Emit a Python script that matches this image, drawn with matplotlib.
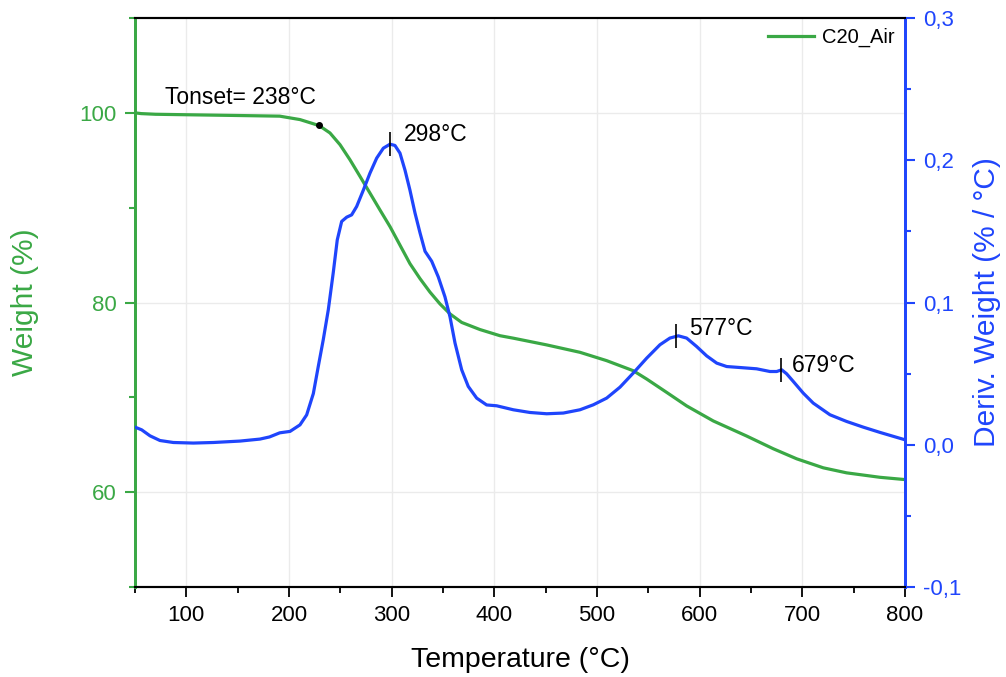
import numpy as np
import matplotlib
matplotlib.use("Agg")
import matplotlib.pyplot as plt
from matplotlib.ticker import MultipleLocator, FuncFormatter

plt.rcParams['font.family'] = ['Liberation Sans', 'DejaVu Sans']

# TGA weight curve (C20_Air)
temp_w = [50, 56, 70, 100, 150, 191, 210.7, 229.3, 239.9, 249.7, 259.4, 269.2,
          278.9, 288.6, 298.4, 308.1, 317.8, 327.6, 337.3, 347, 356.8, 368.2, 386,
          405.5, 418.5, 451, 483.4, 509.4, 535.3, 548.4, 567.9, 587.3, 613.3,
          645.8, 671.7, 694.5, 720.4, 743.1, 775.6, 800]
weight = [100.0, 99.92, 99.85, 99.8, 99.72, 99.65, 99.29, 98.66, 97.88, 96.64,
          95.05, 93.29, 91.53, 89.76, 88.0, 86.05, 84.1, 82.52, 81.1, 79.86, 78.8,
          77.9, 77.15, 76.5, 76.24, 75.53, 74.75, 73.87, 72.81, 71.93, 70.52, 69.1,
          67.51, 65.92, 64.58, 63.52, 62.57, 62.04, 61.57, 61.33]

# derivative weight curve
temp_d = [50, 56.5, 64.6, 74.3, 87.3, 106.8, 126.3, 152.3, 171.7, 181, 191, 201,
          210.7, 217.2, 223.7, 228.5, 233.4, 238.3, 243.1, 247, 251.3, 256.2, 261,
          265.9, 272.4, 278.9, 285.4, 291.9, 298.4, 303.2, 308.1, 313, 317.8,
          322.7, 327.6, 332.5, 339, 345.4, 351.9, 356.8, 361.7, 368.2, 374.6,
          382.8, 392.5, 402.3, 418.5, 434.7, 451, 467.2, 483.4, 496.4, 509.4,
          522.4, 535.3, 548.4, 561.3, 571, 579.2, 587.3, 597, 606.8, 616.6, 626.3,
          639.3, 655.5, 668.5, 675, 679.9, 684.7, 691.2, 700.9, 710.6, 726.9,
          743.1, 759.3, 775.6, 800]
deriv = [0.0124, 0.0105, 0.0063, 0.003, 0.0016, 0.0012, 0.0016, 0.0026, 0.004,
         0.0055, 0.0084, 0.0094, 0.014, 0.021, 0.036, 0.055, 0.074, 0.095, 0.121,
         0.144, 0.157, 0.160, 0.1616, 0.1675, 0.179, 0.191, 0.2015, 0.2085,
         0.2113, 0.2104, 0.205, 0.193, 0.179, 0.163, 0.149, 0.136, 0.129, 0.118,
         0.104, 0.090, 0.0715, 0.0527, 0.041, 0.0328, 0.028, 0.0274, 0.0246,
         0.0227, 0.0218, 0.0223, 0.0246, 0.0281, 0.0328, 0.0405, 0.0504, 0.0609,
         0.0703, 0.075, 0.0766, 0.075, 0.0691, 0.0625, 0.0574, 0.055, 0.0543,
         0.0534, 0.0515, 0.0515, 0.0527, 0.0499, 0.0445, 0.0363, 0.0293, 0.0211,
         0.0164, 0.0124, 0.0087, 0.0035]

peak_T = [298, 577, 679]
peak_labels = ["298°C", "577°C", "679°C"]
onset_T = 229
onset_label = "Tonset= 238°C"

green = '#3aa845'
blue = '#1f45fc'

fig = plt.figure(figsize=(10.06, 6.77), dpi=100)
ax = fig.add_axes([0.1342, 0.1329, 0.7654, 0.8405])
ax2 = ax.twinx()

ax.plot(temp_w, weight, color=green, lw=2.3, label='C20_Air', solid_joinstyle='round')
ax.plot([onset_T], [np.interp(onset_T, temp_w, weight)], 'o', color='black', ms=4)
ax.text(79, 101.6, onset_label, fontsize=16.5, va='center', ha='left')

ax2.plot(temp_d, deriv, color=blue, lw=2.3, zorder=3, solid_joinstyle='round')
peak_vals = np.interp(peak_T, temp_d, deriv)
ax2.plot(peak_T, peak_vals, '|', color='black', ms=17, mew=1.2, zorder=4)
ax2.text(312, 0.218, peak_labels[0], fontsize=16.5, va='center', ha='left')
ax2.text(590, 0.082, peak_labels[1], fontsize=16.5, va='center', ha='left')
ax2.text(690, 0.056, peak_labels[2], fontsize=16.5, va='center', ha='left')

ax.set_xlim(50, 800)
ax.set_ylim(50, 110)
ax2.set_ylim(-0.1, 0.3)

ax.xaxis.set_major_locator(MultipleLocator(100))
ax.xaxis.set_minor_locator(MultipleLocator(50))
ax.yaxis.set_minor_locator(MultipleLocator(10))
ax.set_yticks([60, 80, 100])
ax2.yaxis.set_major_locator(MultipleLocator(0.1))
ax2.yaxis.set_minor_locator(MultipleLocator(0.05))
ax2.yaxis.set_major_formatter(FuncFormatter(lambda v, p: f"{v:.1f}".replace('.', ',').replace('-0,0', '0,0')))

ax.grid(True, which='major', color='#ebebeb', lw=1)
ax.set_axisbelow(True)

ax.tick_params(axis='x', which='major', length=7, width=1.3, labelsize=16, colors='black', pad=6)
ax.tick_params(axis='x', which='minor', length=4, width=1.3)
ax.tick_params(axis='y', which='major', length=7, width=1.5, labelsize=16, colors=green, pad=6)
ax.tick_params(axis='y', which='minor', length=4, width=1.5, colors=green)
ax2.tick_params(axis='y', which='major', length=7, width=1.5, labelsize=16, colors=blue, pad=6)
ax2.tick_params(axis='y', which='minor', length=4, width=1.5, colors=blue)

for a in (ax, ax2):
    a.spines['left'].set_color(green)
    a.spines['left'].set_linewidth(2)
    a.spines['right'].set_color(blue)
    a.spines['right'].set_linewidth(2)
    a.spines['bottom'].set_linewidth(1.5)
    a.spines['top'].set_linewidth(1.5)

ax.set_xlabel('Temperature (°C)', fontsize=20.5, va='center')
ax.set_ylabel('Weight (%)', fontsize=21.5, color=green, va='center')
ax2.set_ylabel('Deriv. Weight (% / °C)', fontsize=21.5, color=blue, va='center')
ax.xaxis.set_label_coords(0.5, -0.128)
ax.yaxis.set_label_coords(-0.143, 0.5)
ax2.yaxis.set_label_coords(1.1065, 0.5)

ax2.legend(handles=ax.get_lines()[:1], loc='upper right', frameon=False, fontsize=14.5,
           handlelength=2.3, borderaxespad=0.1, handletextpad=0.4)

fig.savefig('out.png', dpi=100)
